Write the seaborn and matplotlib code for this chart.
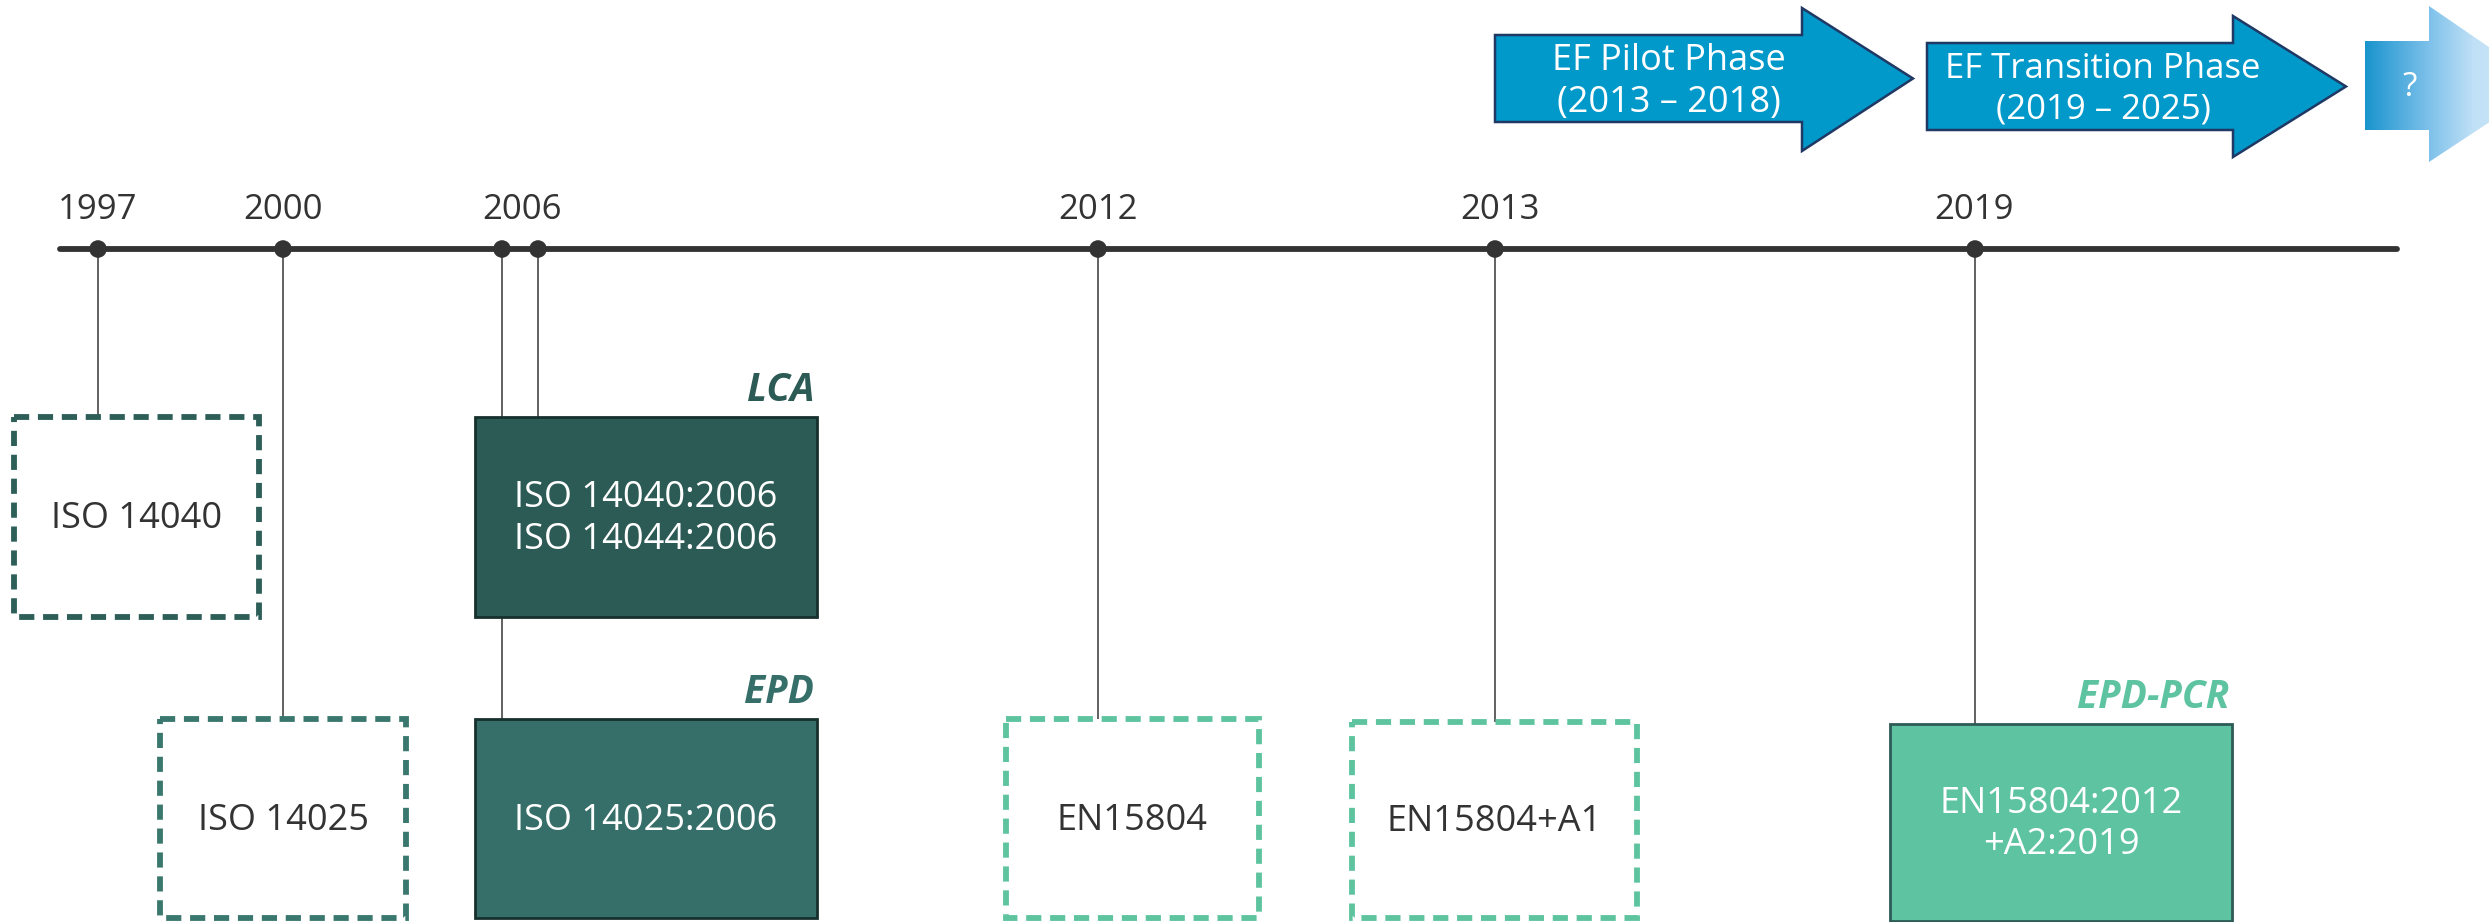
import numpy as np
import pandas as pd
import matplotlib.pyplot as plt
import matplotlib.patches as mpatches
import matplotlib.colors as mcolors
import seaborn as sns

# ---- data -------------------------------------------------------------
years = [1997, 2000, 2006, 2012, 2013, 2019]
standards = [
    "ISO 14040",
    "ISO 14025",
    "ISO 14040:2006\nISO 14044:2006",
    "ISO 14025:2006",
    "EN15804",
    "EN15804+A1",
    "EN15804:2012\n+A2:2019",
]
standard_years = [1997, 2000, 2006, 2006, 2012, 2013, 2019]
standard_groups = ["", "", "LCA", "EPD", "", "", "EPD-PCR"]
phases = ["EF Pilot Phase\n(2013 \u2013 2018)", "EF Transition Phase\n(2019 \u2013 2025)", "?"]

# ---- layout (pixels of a 2489 x 922 canvas) ---------------------------
W, H = 2489, 922
AXIS_Y = 249
AXIS_X = (60, 2397)
year_label_x = [98, 283, 522, 1098, 1500, 1974]
stem_x = [98, 283, 538, 502, 1098, 1495, 1975]
box_rects = [
    (14, 417, 259, 617),
    (160, 719, 406, 918),
    (475, 417, 817, 617),
    (475, 719, 817, 918),
    (1006, 719, 1259, 918),
    (1352, 722, 1637, 918),
    (1890, 724, 2232, 921),
]
box_styles = ["dash", "dash", "fill", "fill", "dash", "dash", "fill"]
box_colors = ["#2d5e58", "#3a786f", "#2c5a55", "#366f69", "#5ec4a0", "#5ec4a0", "#5dc3a0"]
box_edges = ["#2d5e58", "#3a786f", "#16302d", "#16302d", "#5ec4a0", "#5ec4a0", "#2d5b56"]
# arrows: body x0, x1, body y0, y1, head y0, y1, tip x
arrow_geom = [
    (1495, 1802, 35, 122, 8, 151, 1913),
    (1927, 2233, 43, 130, 16, 157, 2346),
    (2365, 2429, 41, 130, 6, 162, 2545),
]
phase_text_xy = [(1669, 82), (2103, 89), (2410, 87)]
phase_font = [26, 25, 24]

sns.set_theme(style="white")
plt.rcParams["font.family"] = ["Open Sans", "DejaVu Sans"]

fig = plt.figure(figsize=(W / 100, H / 100), dpi=100)
ax = fig.add_axes([0, 0, 1, 1])
ax.set_xlim(0, W)
ax.set_ylim(H, 0)
ax.axis("off")

# timeline
line_df = pd.DataFrame({"x": list(AXIS_X), "y": [AXIS_Y, AXIS_Y]})
sns.lineplot(data=line_df, x="x", y="y", color="#333333", linewidth=4.2, ax=ax, zorder=3)

# stems (the 2006 EPD stem runs behind the LCA box)
for sx, rect in zip(stem_x, box_rects):
    ax.plot([sx, sx], [AXIS_Y, rect[1]], color="#555555", linewidth=1.3, zorder=1)

dots = pd.DataFrame({"x": stem_x, "y": [AXIS_Y] * len(stem_x)})
sns.scatterplot(data=dots, x="x", y="y", s=160, color="#333333", edgecolor="none", ax=ax, zorder=4)

for yr, lx in zip(years, year_label_x):
    ax.text(lx, 210, str(yr), ha="center", va="center", fontsize=25, color="#333333")

# boxes
for text, grp, rect, style, col, edge in zip(standards, standard_groups, box_rects,
                                            box_styles, box_colors, box_edges):
    x0, y0, x1, y1 = rect
    if style == "dash":
        patch = mpatches.Rectangle((x0, y0), x1 - x0, y1 - y0, facecolor="white",
                                   edgecolor=col, linewidth=4.2,
                                   linestyle=(0, (2.6, 1.5)), zorder=2)
        tcol = "#333333"
    else:
        patch = mpatches.Rectangle((x0, y0), x1 - x0, y1 - y0, facecolor=col,
                                   edgecolor=edge, linewidth=2, zorder=2)
        tcol = "white"
    ax.add_patch(patch)
    ax.text((x0 + x1) / 2, (y0 + y1) / 2 + 2, text, ha="center", va="center",
            fontsize=26, color=tcol, linespacing=1.2, zorder=5)
    if grp:
        ax.text(x1 - 3, y0 - 27, grp, ha="right", va="center", fontsize=28,
                fontweight="bold", fontstyle="italic", color=col, zorder=5)

# phase arrows
for i, (g, label, (tx, ty), fs) in enumerate(zip(arrow_geom, phases, phase_text_xy, phase_font)):
    bx0, bx1, by0, by1, hy0, hy1, tip = g
    pts = [(bx0, by0), (bx1, by0), (bx1, hy0), (tip, (by0 + by1) / 2),
           (bx1, hy1), (bx1, by1), (bx0, by1)]
    if i < 2:
        poly = mpatches.Polygon(pts, closed=True, facecolor="#0198ca",
                                edgecolor="#1f3864", linewidth=1.8, zorder=3)
        ax.add_patch(poly)
    else:
        poly = mpatches.Polygon(pts, closed=True, facecolor="none",
                                edgecolor="none", zorder=3)
        ax.add_patch(poly)
        cmap = mcolors.LinearSegmentedColormap.from_list(
            "fade", [(0.0, "#1994cd"), (0.35, "#7cc0ea"), (0.6, "#bfe0f6"), (1.0, "#dcedf9")])
        grad = np.linspace(0, 1, 256).reshape(1, -1)
        im = ax.imshow(grad, cmap=cmap, extent=(bx0, tip, hy1, hy0), aspect="auto",
                       zorder=3)
        im.set_clip_path(poly)
    ax.text(tx, ty, label, ha="center", va="center", fontsize=fs,
            color="white", linespacing=1.25, zorder=5)

ax.set_xlim(0, W)
ax.set_ylim(H, 0)
fig.savefig("out.png", dpi=100)
